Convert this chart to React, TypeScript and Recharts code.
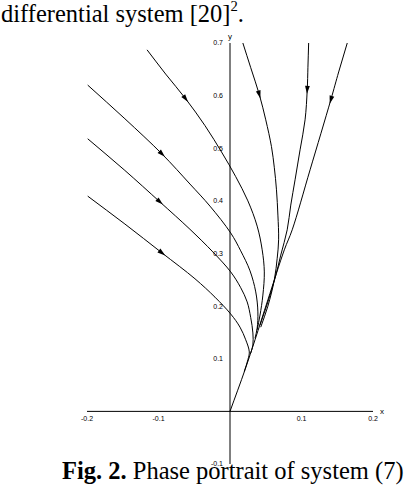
import React from 'react';
import { LineChart, Line, XAxis, YAxis, ReferenceLine, ReferenceDot } from 'recharts';

// Trajectories of the phase portrait (x, y), listed in the direction of flow
const traj1 = [[-0.199, 0.409], [-0.147, 0.356], [-0.095, 0.301], [-0.049, 0.252], [-0.021, 0.217], [0.001, 0.185], [0.014, 0.160], [0.022, 0.136], [0.027, 0.113], [0.025, 0.098], [0.020, 0.076]];
const traj2 = [[-0.199, 0.518], [-0.148, 0.459], [-0.098, 0.398], [-0.056, 0.346], [-0.024, 0.303], [0.001, 0.265], [0.015, 0.235], [0.024, 0.208], [0.029, 0.178], [0.032, 0.149], [0.032, 0.126], [0.029, 0.111]];
const traj3 = [[-0.199, 0.620], [-0.147, 0.556], [-0.095, 0.489], [-0.056, 0.432], [-0.028, 0.390], [0.001, 0.339], [0.015, 0.305], [0.028, 0.267], [0.036, 0.227], [0.039, 0.189], [0.038, 0.158], [0.035, 0.139]];
const traj4 = [[-0.116, 0.687], [-0.090, 0.641], [-0.062, 0.594], [-0.035, 0.543], [-0.011, 0.491], [0.008, 0.446], [0.025, 0.400], [0.038, 0.352], [0.045, 0.307], [0.048, 0.265], [0.046, 0.221], [0.042, 0.183], [0.038, 0.155]];
const traj5 = [[0.018, 0.700], [0.029, 0.653], [0.041, 0.602], [0.050, 0.554], [0.058, 0.503], [0.062, 0.463], [0.065, 0.421], [0.067, 0.373], [0.068, 0.326], [0.066, 0.291], [0.062, 0.250], [0.053, 0.200], [0.043, 0.160]];
const traj6 = [[0.110, 0.700], [0.109, 0.654], [0.108, 0.611], [0.105, 0.554], [0.098, 0.497], [0.091, 0.440], [0.085, 0.392], [0.080, 0.345], [0.071, 0.297], [0.063, 0.253], [0.053, 0.208], [0.042, 0.164]];
const traj7 = [[0.164, 0.700], [0.152, 0.645], [0.141, 0.592], [0.112, 0.459], [0.087, 0.345], [0.076, 0.307], [0.053, 0.212], [0.035, 0.136], [0.021, 0.079], [0.000, 0.000]];

// index of the point carrying the direction arrow on each trajectory
const arrowIndex = [2, 2, 2, 2, 2, 2, 2];

const xTicks = [-0.2, -0.1, 0.1, 0.2];
const yTicks = [-0.1, 0.1, 0.2, 0.3, 0.4, 0.5, 0.6, 0.7];
const xDomain = [-0.2, 0.2];
const yDomain = [-0.1, 0.7];

const trajectories = [traj1, traj2, traj3, traj4, traj5, traj6, traj7].map((t, i) => ({
  id: `t${i + 1}`,
  data: t.map(([x, y]) => ({ x, y })),
  arrowAt: arrowIndex[i],
}));

const fmt = (v: number) => (v < 0 ? '-' : '') + Math.abs(v).toFixed(1);

// centripetal Catmull-Rom curve factory (smooth path through the points)
function centripetal(context: any) {
  let pts: [number, number][] = [];
  const alpha = 0.5;
  return {
    areaStart() {},
    areaEnd() {},
    lineStart() { pts = []; },
    point(x: number, y: number) { pts.push([+x, +y]); },
    lineEnd() {
      if (!pts.length) return;
      context.moveTo(pts[0][0], pts[0][1]);
      for (let i = 0; i < pts.length - 1; i++) {
        const p0 = pts[i - 1] || pts[i];
        const p1 = pts[i];
        const p2 = pts[i + 1];
        const p3 = pts[i + 2] || p2;
        const l01 = Math.hypot(p1[0] - p0[0], p1[1] - p0[1]);
        const l12 = Math.hypot(p2[0] - p1[0], p2[1] - p1[1]);
        const l23 = Math.hypot(p3[0] - p2[0], p3[1] - p2[1]);
        const l01a = Math.pow(l01, alpha), l01_2a = Math.pow(l01, 2 * alpha);
        const l12a = Math.pow(l12, alpha), l12_2a = Math.pow(l12, 2 * alpha);
        const l23a = Math.pow(l23, alpha), l23_2a = Math.pow(l23, 2 * alpha);
        let c1x: number, c1y: number, c2x: number, c2y: number;
        if (l01a > 1e-9) {
          const a = 2 * l01_2a + 3 * l01a * l12a + l12_2a;
          const n = 3 * l01a * (l01a + l12a);
          c1x = (p1[0] * a - p0[0] * l12_2a + p2[0] * l01_2a) / n;
          c1y = (p1[1] * a - p0[1] * l12_2a + p2[1] * l01_2a) / n;
        } else {
          c1x = p1[0] + (p2[0] - p1[0]) / 3; c1y = p1[1] + (p2[1] - p1[1]) / 3;
        }
        if (l23a > 1e-9) {
          const b = 2 * l23_2a + 3 * l23a * l12a + l12_2a;
          const m = 3 * l23a * (l23a + l12a);
          c2x = (p2[0] * b + p1[0] * l23_2a - p3[0] * l12_2a) / m;
          c2y = (p2[1] * b + p1[1] * l23_2a - p3[1] * l12_2a) / m;
        } else {
          c2x = p2[0] - (p2[0] - p1[0]) / 3; c2y = p2[1] - (p2[1] - p1[1]) / 3;
        }
        context.bezierCurveTo(c1x, c1y, c2x, c2y, p2[0], p2[1]);
      }
    },
  };
}

function makeArrowDot(arrowAt: number) {
  const seen: { x: number; y: number }[] = [];
  return (props: any) => {
    const { cx, cy, index } = props;
    seen[index] = { x: cx, y: cy };
    const key = `dot-${index}`;
    if (index !== arrowAt || !seen[index - 1]) return <g key={key} />;
    const pts = props.points;
    let ax = seen[index - 1].x, ay = seen[index - 1].y, bx = cx, by = cy;
    if (pts && pts[index - 1] && pts[index + 1]) {
      ax = pts[index - 1].x; ay = pts[index - 1].y; bx = pts[index + 1].x; by = pts[index + 1].y;
    }
    const len = Math.hypot(bx - ax, by - ay) || 1;
    const ux = (bx - ax) / len, uy = (by - ay) / len;
    const L = 8, W = 2.4;
    const tx = cx + (ux * L) / 2, ty = cy + (uy * L) / 2;
    const bx0 = cx - (ux * L) / 2, by0 = cy - (uy * L) / 2;
    const p = `${tx},${ty} ${bx0 - uy * W},${by0 + ux * W} ${bx0 + uy * W},${by0 - ux * W}`;
    return <polygon key={key} points={p} fill="#000" stroke="none" />;
  };
}

const tickStyle = { fontSize: 7, fill: '#000', fontFamily: '"Liberation Sans", Arial, sans-serif' };
const serif = '"Liberation Serif", "Times New Roman", serif';

export default function App() {
  return (
    <div style={{ position: 'absolute', left: 0, top: 0, width: 405, height: 498, background: '#fff', overflow: 'hidden' }}>
      <div style={{ position: 'absolute', left: 0, top: 0 }}>
        <LineChart width={405} height={498} margin={{ top: 43, right: 32, bottom: 34, left: 87 }}>
          <XAxis type="number" dataKey="x" domain={xDomain} hide allowDataOverflow />
          <YAxis type="number" dataKey="y" domain={yDomain} hide allowDataOverflow />
          <ReferenceLine y={0} stroke="#000" strokeWidth={1} />
          <ReferenceLine x={0} stroke="#000" strokeWidth={1} />
          {xTicks.map((t) => (
            <ReferenceDot key={`xt${t}`} x={t} y={0} r={1} fill="none" stroke="none"
              label={{ value: fmt(t), position: 'bottom', offset: 4, ...tickStyle }} />
          ))}
          {yTicks.map((t) => (
            <ReferenceDot key={`yt${t}`} x={0} y={t} r={1} fill="none" stroke="none"
              label={{ value: fmt(t), position: 'left', offset: 6, ...tickStyle }} />
          ))}
          <ReferenceDot x={0.2} y={0} r={1} fill="none" stroke="none"
            label={{ value: 'x', position: 'right', offset: 6, ...tickStyle, fontSize: 8 }} />
          <ReferenceDot x={0} y={0.7} r={1} fill="none" stroke="none"
            label={{ value: 'y', position: 'top', offset: 3, ...tickStyle, fontSize: 8 }} />
          {trajectories.map((tr) => (
            <Line key={tr.id} data={tr.data} dataKey="y" type={centripetal as any} stroke="#000" strokeWidth={1}
              dot={makeArrowDot(tr.arrowAt)} activeDot={false} isAnimationActive={false} />
          ))}
        </LineChart>
      </div>
      <div style={{ position: 'absolute', left: 1, top: 2, fontFamily: serif, fontSize: 24.5, lineHeight: '24.5px', whiteSpace: 'nowrap', color: '#000' }}>
        differential system [20]<span style={{ fontSize: '0.6em', position: 'relative', top: '-0.75em' }}>2</span>.
      </div>
      <div style={{ position: 'absolute', left: 62, top: 459, fontFamily: serif, fontSize: 24.5, lineHeight: '24.5px', whiteSpace: 'nowrap', color: '#000' }}>
        <b>Fig. 2.</b> Phase portrait of system (7)
      </div>
    </div>
  );
}
